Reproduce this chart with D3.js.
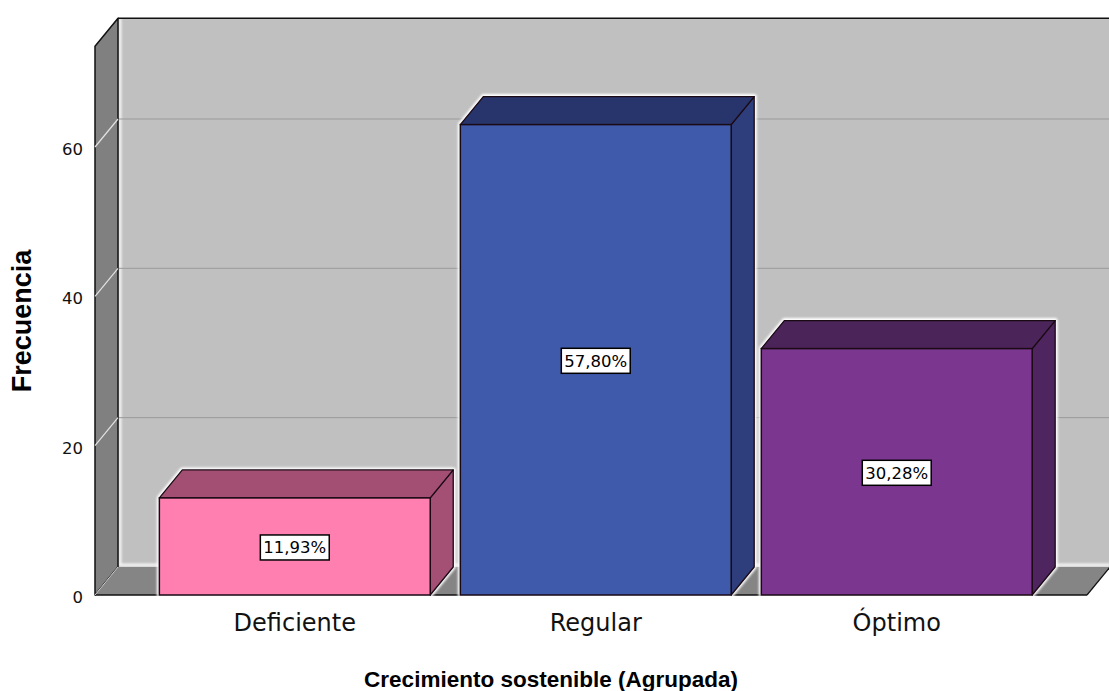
<!DOCTYPE html>
<html>
<head>
<meta charset="utf-8">
<script src="https://cdn.jsdelivr.net/npm/d3@7"></script>
<style>
  html, body { margin: 0; padding: 0; background: #ffffff; }
  svg { display: block; }
</style>
</head>
<body>
<svg id="chart" width="1109" height="691"></svg>
<script>
// Frequency of each group, with its share of the 109 cases
const categories = ["Deficiente", "Regular", "Óptimo"];
const counts = [13, 63, 33];
const percentLabels = ["11,93%", "57,80%", "30,28%"];
const yTicks = [0, 20, 40, 60];

// Face colours per bar: front, top, side
const frontColors = ["#ff80b0", "#3f5aaa", "#7b378f"];
const topColors = ["#a34f73", "#28346c", "#4b2459"];
const sideColors = ["#a44f74", "#2e3d7b", "#4e255f"];

const W = 1109, H = 691;
const svg = d3.select("#chart");

// Oblique depth offset of the 3D box
const DX = 23, DY = -28;
const left = 95, right = 1087, floorY = 595;

const y = d3.scaleLinear().domain([0, 73.5]).range([floorY, floorY - 73.5 * 448 / 60]);
const x = d3.scaleBand().domain(categories).range([left, right])
  .paddingInner(0.1).paddingOuter(0.198).align(0.54);

const defs = svg.append("defs");
defs.append("filter").attr("id", "soft").attr("x", "-5%").attr("y", "-5%")
  .attr("width", "110%").attr("height", "110%")
  .append("feGaussianBlur").attr("stdDeviation", 1.2);

const line = d3.line();
const topY = y.range()[1];

// Back wall
svg.append("rect")
  .attr("x", left + DX).attr("y", topY + DY)
  .attr("width", right - left + 2).attr("height", floorY - topY)
  .attr("fill", "#c0c0c0");

// Soft white inner edge of the back wall
svg.append("path")
  .attr("d", line([[left + DX + 2, topY + DY], [left + DX + 2, floorY + DY - 2], [right + DX, floorY + DY - 2]]))
  .attr("fill", "none").attr("stroke", "#f4f4f4").attr("stroke-width", 3)
  .attr("filter", "url(#soft)");

// Gridlines on the back wall
const gridVals = yTicks.filter(v => v > 0);
svg.append("g").selectAll("line").data(gridVals).join("line")
  .attr("x1", left + DX).attr("x2", right + DX + 2)
  .attr("y1", d => y(d) + DY).attr("y2", d => y(d) + DY)
  .attr("stroke", "#9a9a9a").attr("stroke-width", 1);

// Left side wall
svg.append("path")
  .attr("d", line([[left, floorY], [left, topY], [left + DX, topY + DY], [left + DX, floorY + DY]]) + "Z")
  .attr("fill", "#808080").attr("stroke", "#111").attr("stroke-width", 1.5)
  .attr("stroke-linejoin", "round");

// Gridlines carried across the side wall
svg.append("g").selectAll("line").data(gridVals).join("line")
  .attr("x1", left).attr("x2", left + DX)
  .attr("y1", d => y(d)).attr("y2", d => y(d) + DY)
  .attr("stroke", "#e2e2e2").attr("stroke-width", 1.2);

// Floor
svg.append("path")
  .attr("d", line([[left, floorY], [right, floorY], [right + DX, floorY + DY], [left + DX, floorY + DY]]) + "Z")
  .attr("fill", "#858585").attr("stroke", "none");
svg.append("line")
  .attr("x1", left).attr("x2", right).attr("y1", floorY).attr("y2", floorY)
  .attr("stroke", "#111").attr("stroke-width", 1.5);
svg.append("line")
  .attr("x1", right).attr("x2", right + DX).attr("y1", floorY).attr("y2", floorY + DY)
  .attr("stroke", "#111").attr("stroke-width", 1.2);
svg.append("line")
  .attr("x1", left).attr("x2", left + DX).attr("y1", floorY).attr("y2", floorY + DY)
  .attr("stroke", "#cfcfcf").attr("stroke-width", 1);

// Top edge of the back wall
svg.append("line")
  .attr("x1", left + DX).attr("x2", W).attr("y1", topY + DY).attr("y2", topY + DY)
  .attr("stroke", "#111").attr("stroke-width", 1.5);

// Bars
const data = categories.map((c, i) => ({ c, v: counts[i], i, label: percentLabels[i] }));
const bw = x.bandwidth();
const bars = svg.append("g").selectAll("g").data(data).join("g");

// White halo around each bar
bars.append("path")
  .attr("d", d => {
    const x0 = x(d.c), x1 = x0 + bw, yt = y(d.v);
    return line([[x0, floorY], [x0, yt], [x0 + DX, yt + DY], [x1 + DX, yt + DY], [x1 + DX, floorY + DY], [x1, floorY]]) + "Z";
  })
  .attr("fill", "#ffffff").attr("stroke", "#ffffff").attr("stroke-width", 5)
  .attr("stroke-linejoin", "round").attr("filter", "url(#soft)");

bars.append("path")
  .attr("d", d => {
    const x1 = x(d.c) + bw, yt = y(d.v);
    return line([[x1, yt], [x1 + DX, yt + DY], [x1 + DX, floorY + DY], [x1, floorY]]) + "Z";
  })
  .attr("fill", d => sideColors[d.i]).attr("stroke", "#1a0a14").attr("stroke-width", 1.3)
  .attr("stroke-linejoin", "round");

bars.append("path")
  .attr("d", d => {
    const x0 = x(d.c), x1 = x0 + bw, yt = y(d.v);
    return line([[x0, yt], [x1, yt], [x1 + DX, yt + DY], [x0 + DX, yt + DY]]) + "Z";
  })
  .attr("fill", d => topColors[d.i]).attr("stroke", "#1a0a14").attr("stroke-width", 1.3)
  .attr("stroke-linejoin", "round");

bars.append("rect")
  .attr("x", d => x(d.c)).attr("y", d => y(d.v))
  .attr("width", bw).attr("height", d => floorY - y(d.v))
  .attr("fill", d => frontColors[d.i]).attr("stroke", "#1a0a14").attr("stroke-width", 1.5);

// Percentage labels
const lab = bars.append("g")
  .attr("transform", d => `translate(${x(d.c) + bw / 2},${(y(d.v) + floorY) / 2 + 1})`);
lab.append("text")
  .attr("text-anchor", "middle").attr("dy", "0.36em")
  .attr("font-family", "DejaVu Sans, sans-serif").attr("font-size", 16.5)
  .attr("fill", "#000").text(d => d.label)
  .each(function () {
    const b = this.getBBox();
    d3.select(this.parentNode).insert("rect", "text")
      .attr("x", b.x - 3).attr("y", -12.5).attr("width", b.width + 6).attr("height", 25)
      .attr("fill", "#ffffff").attr("stroke", "#000").attr("stroke-width", 1.5);
  });

// Y tick labels
svg.append("g").selectAll("text").data(yTicks).join("text")
  .attr("x", 83).attr("y", d => y(d) + 2).attr("dy", "0.36em")
  .attr("text-anchor", "end")
  .attr("font-family", "DejaVu Sans, sans-serif").attr("font-size", 16.5)
  .attr("fill", "#111").text(d => d);

// Category labels
svg.append("g").selectAll("text").data(categories).join("text")
  .attr("x", d => x(d) + bw / 2).attr("y", 631)
  .attr("text-anchor", "middle")
  .attr("font-family", "DejaVu Sans, sans-serif").attr("font-size", 24)
  .attr("fill", "#111").text(d => d);

// Axis titles
svg.append("text")
  .attr("transform", "translate(31,321) rotate(-90)")
  .attr("text-anchor", "middle")
  .attr("font-family", "Liberation Sans, Arial, sans-serif").attr("font-weight", "bold")
  .attr("font-size", 27).attr("fill", "#000").text("Frecuencia");

svg.append("text")
  .attr("x", 551).attr("y", 687)
  .attr("text-anchor", "middle")
  .attr("font-family", "Liberation Sans, Arial, sans-serif").attr("font-weight", "bold")
  .attr("font-size", 22.5).attr("fill", "#000").text("Crecimiento sostenible (Agrupada)");
</script>
</body>
</html>
